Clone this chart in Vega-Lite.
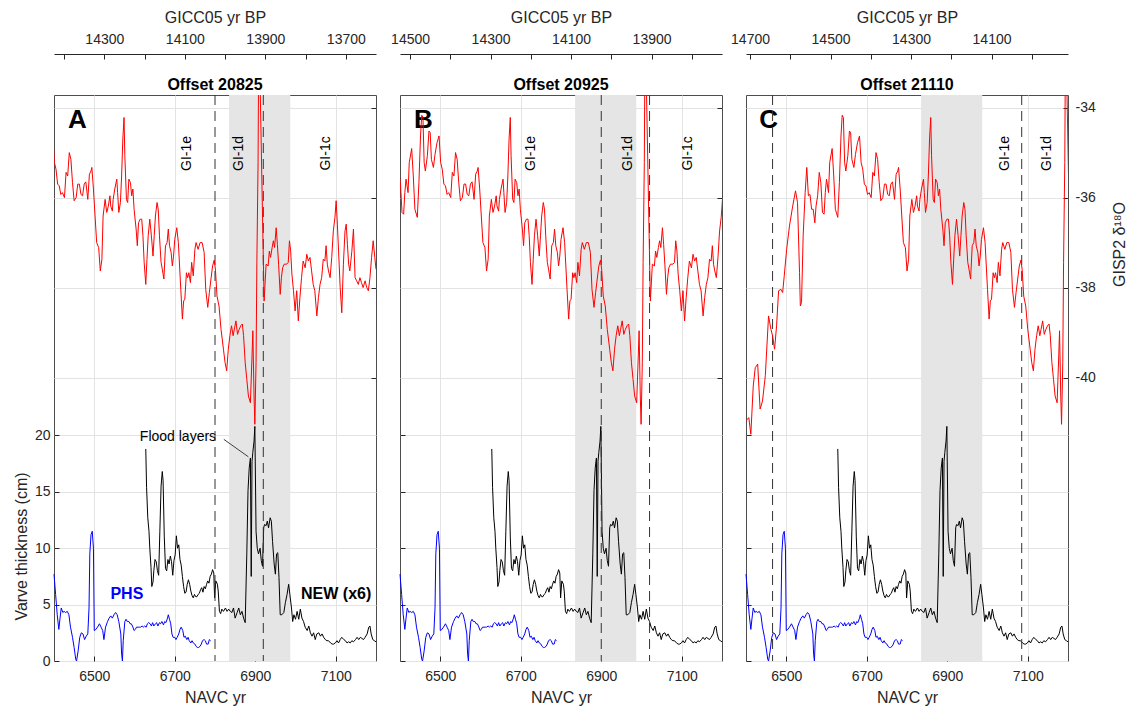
{
  "$schema": "https://vega.github.io/schema/vega-lite/v6.json",
  "background": "white",
  "padding": {"left": 12, "top": 8, "right": 2, "bottom": 5},
  "datasets": {
    "band": [{"start": 6835, "end": 6987}],
    "bounds": [{"gicc": 14644}, {"gicc": 14025}, {"gicc": 13905}],
    "gisp2": [
      {"gicc":14710,"d18o":-40.96},{"gicc":14703,"d18o":-40.89},{"gicc":14698,"d18o":-41.26},{"gicc":14692,"d18o":-40.19},{"gicc":14687,"d18o":-39.78},{"gicc":14681,"d18o":-39.70},{"gicc":14675,"d18o":-40.70},{"gicc":14669,"d18o":-40.52},{"gicc":14662,"d18o":-39.96},{"gicc":14654,"d18o":-38.63},{"gicc":14648,"d18o":-38.93},{"gicc":14644,"d18o":-39.07},{"gicc":14639,"d18o":-39.37},{"gicc":14634,"d18o":-38.85},{"gicc":14629,"d18o":-38.07},{"gicc":14623,"d18o":-38.04},{"gicc":14619,"d18o":-38.11},{"gicc":14615,"d18o":-37.74},{"gicc":14609,"d18o":-37.15},{"gicc":14602,"d18o":-36.63},{"gicc":14594,"d18o":-36.19},{"gicc":14587,"d18o":-35.85},{"gicc":14582,"d18o":-36.11},{"gicc":14577,"d18o":-37.67},{"gicc":14575,"d18o":-38.41},{"gicc":14572,"d18o":-38.33},{"gicc":14568,"d18o":-36.85},{"gicc":14563,"d18o":-35.89},{"gicc":14559,"d18o":-35.33},{"gicc":14555,"d18o":-35.96},{"gicc":14551,"d18o":-35.93},{"gicc":14547,"d18o":-36.26},{"gicc":14543,"d18o":-36.26},{"gicc":14539,"d18o":-36.56},{"gicc":14536,"d18o":-36.19},{"gicc":14532,"d18o":-35.96},{"gicc":14528,"d18o":-35.44},{"gicc":14524,"d18o":-35.67},{"gicc":14520,"d18o":-36.33},{"gicc":14516,"d18o":-36.37},{"gicc":14513,"d18o":-35.89},{"gicc":14510,"d18o":-35.59},{"gicc":14505,"d18o":-35.89},{"gicc":14502,"d18o":-35.22},{"gicc":14496,"d18o":-34.91},{"gicc":14492,"d18o":-35.52},{"gicc":14488,"d18o":-36.26},{"gicc":14482,"d18o":-36.44},{"gicc":14478,"d18o":-35.67},{"gicc":14474,"d18o":-34.63},{"gicc":14471,"d18o":-34.17},{"gicc":14468,"d18o":-34.22},{"gicc":14465,"d18o":-35.22},{"gicc":14462,"d18o":-35.41},{"gicc":14457,"d18o":-35.07},{"gicc":14453,"d18o":-34.52},{"gicc":14450,"d18o":-34.56},{"gicc":14447,"d18o":-35.15},{"gicc":14442,"d18o":-35.33},{"gicc":14438,"d18o":-35.04},{"gicc":14433,"d18o":-34.78},{"gicc":14428,"d18o":-34.63},{"gicc":14424,"d18o":-35.22},{"gicc":14420,"d18o":-35.37},{"gicc":14416,"d18o":-35.70},{"gicc":14412,"d18o":-35.74},{"gicc":14408,"d18o":-35.93},{"gicc":14404,"d18o":-35.89},{"gicc":14399,"d18o":-36.00},{"gicc":14395,"d18o":-35.44},{"gicc":14391,"d18o":-35.52},{"gicc":14387,"d18o":-35.00},{"gicc":14383,"d18o":-35.15},{"gicc":14379,"d18o":-35.67},{"gicc":14375,"d18o":-36.07},{"gicc":14370,"d18o":-36.00},{"gicc":14366,"d18o":-35.70},{"gicc":14362,"d18o":-35.70},{"gicc":14358,"d18o":-35.93},{"gicc":14354,"d18o":-35.96},{"gicc":14350,"d18o":-35.70},{"gicc":14346,"d18o":-35.65},{"gicc":14341,"d18o":-36.04},{"gicc":14337,"d18o":-35.48},{"gicc":14333,"d18o":-35.41},{"gicc":14331,"d18o":-35.33},{"gicc":14327,"d18o":-35.81},{"gicc":14323,"d18o":-36.41},{"gicc":14319,"d18o":-37.00},{"gicc":14314,"d18o":-37.11},{"gicc":14310,"d18o":-37.63},{"gicc":14306,"d18o":-37.37},{"gicc":14303,"d18o":-36.41},{"gicc":14298,"d18o":-36.04},{"gicc":14294,"d18o":-36.33},{"gicc":14290,"d18o":-36.19},{"gicc":14286,"d18o":-35.96},{"gicc":14284,"d18o":-36.19},{"gicc":14280,"d18o":-36.30},{"gicc":14278,"d18o":-36.04},{"gicc":14274,"d18o":-35.81},{"gicc":14269,"d18o":-35.59},{"gicc":14267,"d18o":-35.89},{"gicc":14264,"d18o":-36.33},{"gicc":14260,"d18o":-36.11},{"gicc":14257,"d18o":-35.52},{"gicc":14254,"d18o":-34.70},{"gicc":14251,"d18o":-34.22},{"gicc":14249,"d18o":-35.07},{"gicc":14245,"d18o":-36.04},{"gicc":14242,"d18o":-36.11},{"gicc":14239,"d18o":-35.59},{"gicc":14235,"d18o":-35.67},{"gicc":14232,"d18o":-35.96},{"gicc":14229,"d18o":-35.81},{"gicc":14226,"d18o":-36.26},{"gicc":14221,"d18o":-36.70},{"gicc":14218,"d18o":-37.07},{"gicc":14215,"d18o":-36.56},{"gicc":14211,"d18o":-36.48},{"gicc":14207,"d18o":-36.48},{"gicc":14204,"d18o":-36.85},{"gicc":14201,"d18o":-37.44},{"gicc":14197,"d18o":-37.93},{"gicc":14194,"d18o":-37.37},{"gicc":14191,"d18o":-36.85},{"gicc":14187,"d18o":-36.48},{"gicc":14183,"d18o":-36.85},{"gicc":14179,"d18o":-37.30},{"gicc":14176,"d18o":-36.85},{"gicc":14173,"d18o":-36.41},{"gicc":14169,"d18o":-36.11},{"gicc":14166,"d18o":-36.26},{"gicc":14163,"d18o":-36.85},{"gicc":14159,"d18o":-37.44},{"gicc":14156,"d18o":-37.59},{"gicc":14152,"d18o":-37.81},{"gicc":14148,"d18o":-37.07},{"gicc":14144,"d18o":-37.00},{"gicc":14141,"d18o":-36.70},{"gicc":14138,"d18o":-37.07},{"gicc":14134,"d18o":-37.22},{"gicc":14131,"d18o":-37.52},{"gicc":14128,"d18o":-37.30},{"gicc":14125,"d18o":-36.93},{"gicc":14120,"d18o":-36.67},{"gicc":14116,"d18o":-37.00},{"gicc":14113,"d18o":-37.52},{"gicc":14110,"d18o":-38.04},{"gicc":14106,"d18o":-38.70},{"gicc":14103,"d18o":-38.30},{"gicc":14100,"d18o":-38.26},{"gicc":14096,"d18o":-37.67},{"gicc":14093,"d18o":-37.78},{"gicc":14090,"d18o":-37.67},{"gicc":14086,"d18o":-37.89},{"gicc":14083,"d18o":-37.44},{"gicc":14079,"d18o":-37.74},{"gicc":14075,"d18o":-37.15},{"gicc":14072,"d18o":-37.00},{"gicc":14067,"d18o":-37.15},{"gicc":14062,"d18o":-37.00},{"gicc":14057,"d18o":-37.00},{"gicc":14052,"d18o":-37.22},{"gicc":14048,"d18o":-38.04},{"gicc":14043,"d18o":-38.44},{"gicc":14039,"d18o":-38.11},{"gicc":14035,"d18o":-37.81},{"gicc":14031,"d18o":-37.52},{"gicc":14027,"d18o":-37.39},{"gicc":14024,"d18o":-37.59},{"gicc":14020,"d18o":-38.19},{"gicc":14015,"d18o":-38.41},{"gicc":14010,"d18o":-38.93},{"gicc":14004,"d18o":-39.37},{"gicc":14000,"d18o":-39.67},{"gicc":13996,"d18o":-39.85},{"gicc":13992,"d18o":-39.37},{"gicc":13988,"d18o":-39.07},{"gicc":13984,"d18o":-38.85},{"gicc":13980,"d18o":-39.07},{"gicc":13977,"d18o":-38.93},{"gicc":13973,"d18o":-38.74},{"gicc":13969,"d18o":-39.04},{"gicc":13965,"d18o":-38.93},{"gicc":13961,"d18o":-38.85},{"gicc":13957,"d18o":-38.81},{"gicc":13954,"d18o":-39.07},{"gicc":13950,"d18o":-39.67},{"gicc":13946,"d18o":-40.04},{"gicc":13942,"d18o":-40.41},{"gicc":13937,"d18o":-40.56},{"gicc":13933,"d18o":-39.52},{"gicc":13931,"d18o":-38.96},{"gicc":13928,"d18o":-40.41},{"gicc":13926,"d18o":-41.04},{"gicc":13923,"d18o":-39.67},{"gicc":13921,"d18o":-37.44},{"gicc":13918,"d18o":-35.22},{"gicc":13916,"d18o":-32.0},{"gicc":13903,"d18o":-38.30},{"gicc":13898,"d18o":-37.48},{"gicc":13893,"d18o":-37.52},{"gicc":13890,"d18o":-37.19},{"gicc":13887,"d18o":-37.33},{"gicc":13883,"d18o":-37.11},{"gicc":13880,"d18o":-36.96},{"gicc":13877,"d18o":-37.11},{"gicc":13873,"d18o":-36.67},{"gicc":13870,"d18o":-37.04},{"gicc":13867,"d18o":-37.48},{"gicc":13863,"d18o":-38.15},{"gicc":13860,"d18o":-37.78},{"gicc":13857,"d18o":-37.56},{"gicc":13853,"d18o":-37.48},{"gicc":13847,"d18o":-37.48},{"gicc":13843,"d18o":-37.44},{"gicc":13840,"d18o":-36.96},{"gicc":13837,"d18o":-37.19},{"gicc":13834,"d18o":-37.70},{"gicc":13830,"d18o":-38.07},{"gicc":13826,"d18o":-38.52},{"gicc":13822,"d18o":-38.07},{"gicc":13818,"d18o":-38.74},{"gicc":13814,"d18o":-38.22},{"gicc":13810,"d18o":-37.78},{"gicc":13806,"d18o":-37.41},{"gicc":13801,"d18o":-37.56},{"gicc":13797,"d18o":-37.26},{"gicc":13793,"d18o":-37.41},{"gicc":13789,"d18o":-37.33},{"gicc":13785,"d18o":-37.63},{"gicc":13781,"d18o":-37.93},{"gicc":13777,"d18o":-38.07},{"gicc":13772,"d18o":-38.63},{"gicc":13768,"d18o":-38.22},{"gicc":13764,"d18o":-37.93},{"gicc":13760,"d18o":-37.78},{"gicc":13756,"d18o":-37.37},{"gicc":13752,"d18o":-37.41},{"gicc":13749,"d18o":-37.07},{"gicc":13746,"d18o":-37.48},{"gicc":13743,"d18o":-37.63},{"gicc":13739,"d18o":-37.78},{"gicc":13735,"d18o":-37.33},{"gicc":13731,"d18o":-36.74},{"gicc":13727,"d18o":-36.44},{"gicc":13724,"d18o":-36.07},{"gicc":13721,"d18o":-36.59},{"gicc":13718,"d18o":-37.19},{"gicc":13714,"d18o":-38.00},{"gicc":13710,"d18o":-38.56},{"gicc":13706,"d18o":-37.48},{"gicc":13702,"d18o":-36.74},{"gicc":13699,"d18o":-36.59},{"gicc":13696,"d18o":-37.04},{"gicc":13693,"d18o":-37.48},{"gicc":13690,"d18o":-37.63},{"gicc":13685,"d18o":-37.19},{"gicc":13681,"d18o":-36.70},{"gicc":13677,"d18o":-37.78},{"gicc":13673,"d18o":-37.85},{"gicc":13669,"d18o":-37.93},{"gicc":13665,"d18o":-37.78},{"gicc":13661,"d18o":-37.89},{"gicc":13657,"d18o":-38.00},{"gicc":13652,"d18o":-37.85},{"gicc":13648,"d18o":-38.00},{"gicc":13644,"d18o":-38.07},{"gicc":13640,"d18o":-37.78},{"gicc":13636,"d18o":-37.33},{"gicc":13632,"d18o":-36.96},{"gicc":13628,"d18o":-37.33},{"gicc":13625,"d18o":-37.59}
    ],
    "new": [
      {"navc":6628,"thk":18.8},{"navc":6630,"thk":15.4},{"navc":6633,"thk":12.7},{"navc":6636,"thk":11.5},{"navc":6638,"thk":10.0},{"navc":6641,"thk":8.3},{"navc":6643,"thk":6.6},{"navc":6646,"thk":7.0},{"navc":6648,"thk":8.0},{"navc":6651,"thk":9.0},{"navc":6654,"thk":8.8},{"navc":6657,"thk":8.0},{"navc":6660,"thk":7.6},{"navc":6663,"thk":11.5},{"navc":6666,"thk":15.5},{"navc":6669,"thk":16.8},{"navc":6671,"thk":16.0},{"navc":6674,"thk":11.0},{"navc":6677,"thk":8.2},{"navc":6680,"thk":8.0},{"navc":6683,"thk":9.0},{"navc":6686,"thk":8.6},{"navc":6689,"thk":9.3},{"navc":6692,"thk":8.8},{"navc":6695,"thk":7.6},{"navc":6698,"thk":8.9},{"navc":6701,"thk":9.4},{"navc":6704,"thk":11.1},{"navc":6707,"thk":10.0},{"navc":6710,"thk":10.3},{"navc":6713,"thk":9.0},{"navc":6716,"thk":8.5},{"navc":6719,"thk":7.5},{"navc":6722,"thk":6.6},{"navc":6725,"thk":6.0},{"navc":6728,"thk":6.1},{"navc":6731,"thk":6.8},{"navc":6734,"thk":7.2},{"navc":6737,"thk":6.8},{"navc":6740,"thk":6.2},{"navc":6743,"thk":5.8},{"navc":6746,"thk":5.6},{"navc":6749,"thk":5.9},{"navc":6752,"thk":5.7},{"navc":6755,"thk":5.7},{"navc":6758,"thk":5.9},{"navc":6761,"thk":6.0},{"navc":6764,"thk":6.3},{"navc":6767,"thk":6.5},{"navc":6770,"thk":6.1},{"navc":6773,"thk":6.6},{"navc":6776,"thk":6.4},{"navc":6779,"thk":6.8},{"navc":6782,"thk":7.1},{"navc":6785,"thk":6.9},{"navc":6788,"thk":7.5},{"navc":6791,"thk":7.7},{"navc":6794,"thk":8.1},{"navc":6797,"thk":7.8},{"navc":6799,"thk":5.6},{"navc":6802,"thk":7.1},{"navc":6806,"thk":6.8},{"navc":6808,"thk":6.2},{"navc":6811,"thk":4.4},{"navc":6814,"thk":4.2},{"navc":6817,"thk":4.6},{"navc":6821,"thk":4.4},{"navc":6826,"thk":4.7},{"navc":6830,"thk":4.4},{"navc":6834,"thk":4.6},{"navc":6838,"thk":4.4},{"navc":6842,"thk":4.3},{"navc":6846,"thk":4.7},{"navc":6850,"thk":3.8},{"navc":6855,"thk":4.3},{"navc":6859,"thk":4.7},{"navc":6863,"thk":4.1},{"navc":6867,"thk":4.4},{"navc":6871,"thk":3.8},{"navc":6875,"thk":3.4},{"navc":6879,"thk":9.5},{"navc":6882,"thk":15.1},{"navc":6885,"thk":17.1},{"navc":6888,"thk":18.0},{"navc":6890,"thk":7.5},{"navc":6892,"thk":17.7},{"navc":6894,"thk":18.5},{"navc":6897,"thk":19.5},{"navc":6899,"thk":20.8},{"navc":6902,"thk":11.5},{"navc":6905,"thk":10.0},{"navc":6908,"thk":9.5},{"navc":6912,"thk":10.0},{"navc":6915,"thk":8.9},{"navc":6918,"thk":8.4},{"navc":6921,"thk":11.8},{"navc":6923,"thk":12.1},{"navc":6927,"thk":12.0},{"navc":6930,"thk":12.4},{"navc":6933,"thk":11.8},{"navc":6937,"thk":12.7},{"navc":6940,"thk":12.4},{"navc":6943,"thk":10.6},{"navc":6947,"thk":8.6},{"navc":6950,"thk":7.7},{"navc":6953,"thk":9.5},{"navc":6956,"thk":9.6},{"navc":6959,"thk":7.4},{"navc":6962,"thk":4.1},{"navc":6966,"thk":4.1},{"navc":6971,"thk":4.3},{"navc":6975,"thk":5.2},{"navc":6979,"thk":5.9},{"navc":6983,"thk":6.8},{"navc":6986,"thk":5.9},{"navc":6990,"thk":4.7},{"navc":6993,"thk":3.5},{"navc":6996,"thk":4.1},{"navc":7000,"thk":3.7},{"navc":7004,"thk":4.4},{"navc":7008,"thk":3.7},{"navc":7012,"thk":4.6},{"navc":7016,"thk":3.8},{"navc":7020,"thk":3.5},{"navc":7024,"thk":3.0},{"navc":7029,"thk":2.7},{"navc":7033,"thk":3.1},{"navc":7037,"thk":2.5},{"navc":7041,"thk":2.2},{"navc":7045,"thk":2.5},{"navc":7049,"thk":1.9},{"navc":7053,"thk":2.4},{"navc":7058,"thk":2.5},{"navc":7062,"thk":2.2},{"navc":7066,"thk":2.4},{"navc":7070,"thk":2.1},{"navc":7074,"thk":1.9},{"navc":7078,"thk":1.8},{"navc":7082,"thk":1.8},{"navc":7087,"thk":1.6},{"navc":7091,"thk":1.5},{"navc":7095,"thk":1.5},{"navc":7099,"thk":1.6},{"navc":7103,"thk":1.8},{"navc":7107,"thk":1.6},{"navc":7111,"thk":1.9},{"navc":7115,"thk":2.1},{"navc":7120,"thk":1.9},{"navc":7124,"thk":1.8},{"navc":7128,"thk":1.6},{"navc":7132,"thk":1.7},{"navc":7136,"thk":1.6},{"navc":7140,"thk":1.8},{"navc":7144,"thk":1.7},{"navc":7149,"thk":1.9},{"navc":7153,"thk":2.1},{"navc":7157,"thk":1.9},{"navc":7161,"thk":2.1},{"navc":7165,"thk":2.0},{"navc":7169,"thk":1.9},{"navc":7173,"thk":2.1},{"navc":7178,"thk":2.4},{"navc":7182,"thk":3.0},{"navc":7185,"thk":3.1},{"navc":7188,"thk":2.4},{"navc":7192,"thk":1.9},{"navc":7196,"thk":1.8},{"navc":7200,"thk":1.7}
    ],
    "phs": [
      {"navc":6400,"thk":7.7},{"navc":6404,"thk":5.9},{"navc":6408,"thk":4.1},{"navc":6412,"thk":2.8},{"navc":6415,"thk":3.8},{"navc":6418,"thk":4.7},{"navc":6422,"thk":4.3},{"navc":6425,"thk":4.4},{"navc":6429,"thk":4.3},{"navc":6433,"thk":4.4},{"navc":6437,"thk":4.1},{"navc":6441,"thk":3.0},{"navc":6446,"thk":2.1},{"navc":6450,"thk":1.2},{"navc":6454,"thk":0.15},{"navc":6456,"thk":0},{"navc":6460,"thk":0.9},{"navc":6464,"thk":2.1},{"navc":6468,"thk":2.5},{"navc":6472,"thk":2.4},{"navc":6476,"thk":1.9},{"navc":6480,"thk":2.2},{"navc":6484,"thk":2.4},{"navc":6487,"thk":4.7},{"navc":6489,"thk":9.5},{"navc":6492,"thk":11.2},{"navc":6495,"thk":11.5},{"navc":6498,"thk":10.0},{"navc":6500,"thk":2.7},{"navc":6504,"thk":2.8},{"navc":6508,"thk":3.0},{"navc":6513,"thk":3.3},{"navc":6517,"thk":3.0},{"navc":6521,"thk":2.7},{"navc":6524,"thk":1.9},{"navc":6528,"thk":3.0},{"navc":6533,"thk":3.5},{"navc":6537,"thk":3.8},{"navc":6541,"thk":4.0},{"navc":6545,"thk":3.8},{"navc":6549,"thk":4.1},{"navc":6553,"thk":4.3},{"navc":6557,"thk":4.1},{"navc":6561,"thk":3.5},{"navc":6566,"thk":2.4},{"navc":6568,"thk":0.6},{"navc":6570,"thk":0},{"navc":6572,"thk":1.8},{"navc":6576,"thk":3.5},{"navc":6579,"thk":3.7},{"navc":6582,"thk":3.5},{"navc":6586,"thk":3.5},{"navc":6589,"thk":3.3},{"navc":6592,"thk":3.3},{"navc":6595,"thk":3.1},{"navc":6599,"thk":2.7},{"navc":6602,"thk":2.8},{"navc":6605,"thk":3.0},{"navc":6609,"thk":3.0},{"navc":6612,"thk":3.0},{"navc":6615,"thk":3.0},{"navc":6619,"thk":3.1},{"navc":6622,"thk":3.0},{"navc":6625,"thk":3.1},{"navc":6629,"thk":3.0},{"navc":6632,"thk":3.3},{"navc":6635,"thk":3.4},{"navc":6639,"thk":3.3},{"navc":6642,"thk":3.1},{"navc":6645,"thk":3.4},{"navc":6648,"thk":3.1},{"navc":6652,"thk":3.3},{"navc":6655,"thk":3.4},{"navc":6658,"thk":3.1},{"navc":6662,"thk":3.4},{"navc":6665,"thk":3.3},{"navc":6668,"thk":3.5},{"navc":6672,"thk":3.2},{"navc":6675,"thk":3.5},{"navc":6678,"thk":3.4},{"navc":6682,"thk":3.8},{"navc":6684,"thk":4.1},{"navc":6687,"thk":3.7},{"navc":6690,"thk":3.3},{"navc":6693,"thk":2.4},{"navc":6696,"thk":2.1},{"navc":6700,"thk":2.1},{"navc":6703,"thk":1.9},{"navc":6706,"thk":2.1},{"navc":6710,"thk":2.4},{"navc":6713,"thk":2.8},{"navc":6716,"thk":3.0},{"navc":6720,"thk":2.7},{"navc":6723,"thk":2.1},{"navc":6726,"thk":2.2},{"navc":6730,"thk":1.9},{"navc":6733,"thk":2.1},{"navc":6736,"thk":1.8},{"navc":6740,"thk":1.6},{"navc":6743,"thk":1.8},{"navc":6746,"thk":1.6},{"navc":6750,"thk":1.5},{"navc":6753,"thk":1.3},{"navc":6756,"thk":1.2},{"navc":6759,"thk":1.2},{"navc":6763,"thk":1.3},{"navc":6766,"thk":1.5},{"navc":6769,"thk":1.8},{"navc":6773,"thk":1.9},{"navc":6776,"thk":1.8},{"navc":6779,"thk":1.5},{"navc":6783,"thk":1.5},{"navc":6786,"thk":1.9},{"navc":6789,"thk":1.8}
    ]
  },
  "spacing": 24,
  "bounds": "flush",
  "hconcat": [
    {
      "title": {"text": "Offset 20825"},
      "width": 322, "height": 566,
      "layer": [
        {"layer": [
          {"data": {"name": "band"}, "mark": {"type": "rect", "color": "#e5e5e5"},
           "encoding": {"x": {"field": "start", "type": "quantitative", "scale": {"domain": [6400, 7200], "nice": false, "zero": false}, "axis": {"title": "NAVC yr", "values": [6500, 6700, 6900, 7100], "format": "d", "grid": true, "labelPadding": 13, "titlePadding": 6}}, "x2": {"field": "end"}}},
          {"data": {"name": "phs"}, "mark": {"type": "line", "color": "#0000ff", "strokeWidth": 1},
           "encoding": {"x": {"field": "navc", "type": "quantitative"}, "y": {"field": "thk", "type": "quantitative", "scale": {"domain": [0, 50.18], "nice": false, "zero": false}, "axis": {"orient": "left", "title": "Varve thickness (cm)", "values": [0, 5, 10, 15, 20], "grid": true, "labelPadding": 9, "titlePadding": 5, "titleY": 451}}}},
          {"data": {"name": "new"}, "mark": {"type": "line", "color": "#000000", "strokeWidth": 1},
           "encoding": {"x": {"field": "navc", "type": "quantitative"}, "y": {"field": "thk", "type": "quantitative"}}},
          {"data": {"values": [{}]}, "mark": {"type": "text", "text": "A", "fontSize": 26, "fontWeight": "bold", "color": "#000000", "align": "center", "baseline": "middle"},
           "encoding": {"x": {"datum": 6458, "type": "quantitative"}, "y": {"datum": 48, "type": "quantitative"}}},
          {"data": {"values": [{}]}, "mark": {"type": "text", "text": "GI-1e", "fontSize": 14, "angle": 270, "color": "#000000", "align": "center", "baseline": "middle"},
           "encoding": {"x": {"datum": 6730, "type": "quantitative"}, "y": {"datum": 45, "type": "quantitative"}}},
          {"data": {"values": [{}]}, "mark": {"type": "text", "text": "GI-1d", "fontSize": 14, "angle": 270, "color": "#000000", "align": "center", "baseline": "middle"},
           "encoding": {"x": {"datum": 6860, "type": "quantitative"}, "y": {"datum": 45, "type": "quantitative"}}},
          {"data": {"values": [{}]}, "mark": {"type": "text", "text": "GI-1c", "fontSize": 14, "angle": 270, "color": "#000000", "align": "center", "baseline": "middle"},
           "encoding": {"x": {"datum": 7077, "type": "quantitative"}, "y": {"datum": 45, "type": "quantitative"}}},
          {"data": {"values": [{}]}, "mark": {"type": "text", "text": "Flood layers", "fontSize": 14, "color": "#000000", "align": "center", "baseline": "middle"},
           "encoding": {"x": {"datum": 6708, "type": "quantitative"}, "y": {"datum": 19.9, "type": "quantitative"}}},
          {"data": {"values": [{}]}, "mark": {"type": "rule", "color": "#404040", "strokeWidth": 1},
           "encoding": {"x": {"datum": 6822, "type": "quantitative"}, "x2": {"datum": 6883}, "y": {"datum": 19.65, "type": "quantitative"}, "y2": {"datum": 18.1}}},
          {"data": {"values": [{}]}, "mark": {"type": "text", "text": "PHS", "fontSize": 16, "fontWeight": "bold", "color": "#0000ff", "align": "center", "baseline": "middle"},
           "encoding": {"x": {"datum": 6581, "type": "quantitative"}, "y": {"datum": 5.94, "type": "quantitative"}}},
          {"data": {"values": [{}]}, "mark": {"type": "text", "text": "NEW (x6)", "fontSize": 16, "fontWeight": "bold", "color": "#000000", "align": "center", "baseline": "middle"},
           "encoding": {"x": {"datum": 7101, "type": "quantitative"}, "y": {"datum": 5.94, "type": "quantitative"}}}
        ]},
        {"layer": [
          {"data": {"name": "bounds"}, "mark": {"type": "rule", "color": "#333333", "strokeDash": [10, 6], "strokeWidth": 1, "clip": true},
           "encoding": {"x": {"field": "gicc", "type": "quantitative", "scale": {"domain": [13625, 14425], "reverse": true, "nice": false, "zero": false}, "axis": {"orient": "top", "title": "GICC05 yr BP", "values": [13700, 13800, 13900, 14000, 14100, 14200, 14300, 14400], "labelExpr": "datum.value % 200 == 100 ? '' + datum.value : ''", "grid": false, "domain": true, "domainColor": "#262626", "offset": 41, "labelPadding": 13, "titlePadding": 7}}}},
          {"data": {"name": "gisp2"}, "mark": {"type": "line", "color": "#ff0000", "strokeWidth": 1, "clip": true},
           "encoding": {"x": {"field": "gicc", "type": "quantitative"}, "y": {"field": "d18o", "type": "quantitative", "scale": {"domain": [-46.3, -33.72], "nice": false, "zero": false}, "axis": {"orient": "right", "title": null, "values": [-40, -38, -36, -34], "grid": true, "labels": false}}}}
        ]}
      ],
      "resolve": {"scale": {"x": "independent", "y": "independent"}}
    },
    {
      "title": {"text": "Offset 20925"},
      "width": 322, "height": 566,
      "layer": [
        {"layer": [
          {"data": {"name": "band"}, "mark": {"type": "rect", "color": "#e5e5e5"},
           "encoding": {"x": {"field": "start", "type": "quantitative", "scale": {"domain": [6400, 7200], "nice": false, "zero": false}, "axis": {"title": "NAVC yr", "values": [6500, 6700, 6900, 7100], "format": "d", "grid": true, "labelPadding": 13, "titlePadding": 6}}, "x2": {"field": "end"}}},
          {"data": {"name": "phs"}, "mark": {"type": "line", "color": "#0000ff", "strokeWidth": 1},
           "encoding": {"x": {"field": "navc", "type": "quantitative"}, "y": {"field": "thk", "type": "quantitative", "scale": {"domain": [0, 50.18], "nice": false, "zero": false}, "axis": {"orient": "left", "title": null, "values": [0, 5, 10, 15, 20], "grid": true, "labels": false}}}},
          {"data": {"name": "new"}, "mark": {"type": "line", "color": "#000000", "strokeWidth": 1},
           "encoding": {"x": {"field": "navc", "type": "quantitative"}, "y": {"field": "thk", "type": "quantitative"}}},
          {"data": {"values": [{}]}, "mark": {"type": "text", "text": "B", "fontSize": 26, "fontWeight": "bold", "color": "#000000", "align": "center", "baseline": "middle"},
           "encoding": {"x": {"datum": 6458, "type": "quantitative"}, "y": {"datum": 48, "type": "quantitative"}}},
          {"data": {"values": [{}]}, "mark": {"type": "text", "text": "GI-1e", "fontSize": 14, "angle": 270, "color": "#000000", "align": "center", "baseline": "middle"},
           "encoding": {"x": {"datum": 6726, "type": "quantitative"}, "y": {"datum": 45, "type": "quantitative"}}},
          {"data": {"values": [{}]}, "mark": {"type": "text", "text": "GI-1d", "fontSize": 14, "angle": 270, "color": "#000000", "align": "center", "baseline": "middle"},
           "encoding": {"x": {"datum": 6967, "type": "quantitative"}, "y": {"datum": 45, "type": "quantitative"}}},
          {"data": {"values": [{}]}, "mark": {"type": "text", "text": "GI-1c", "fontSize": 14, "angle": 270, "color": "#000000", "align": "center", "baseline": "middle"},
           "encoding": {"x": {"datum": 7116, "type": "quantitative"}, "y": {"datum": 45, "type": "quantitative"}}}
        ]},
        {"layer": [
          {"data": {"name": "bounds"}, "mark": {"type": "rule", "color": "#333333", "strokeDash": [10, 6], "strokeWidth": 1, "clip": true},
           "encoding": {"x": {"field": "gicc", "type": "quantitative", "scale": {"domain": [13725, 14525], "reverse": true, "nice": false, "zero": false}, "axis": {"orient": "top", "title": "GICC05 yr BP", "values": [13800, 13900, 14000, 14100, 14200, 14300, 14400, 14500], "labelExpr": "datum.value % 200 == 100 ? '' + datum.value : ''", "grid": false, "domain": true, "domainColor": "#262626", "offset": 41, "labelPadding": 13, "titlePadding": 7}}}},
          {"data": {"name": "gisp2"}, "mark": {"type": "line", "color": "#ff0000", "strokeWidth": 1, "clip": true},
           "encoding": {"x": {"field": "gicc", "type": "quantitative"}, "y": {"field": "d18o", "type": "quantitative", "scale": {"domain": [-46.3, -33.72], "nice": false, "zero": false}, "axis": {"orient": "right", "title": null, "values": [-40, -38, -36, -34], "grid": true, "labels": false}}}}
        ]}
      ],
      "resolve": {"scale": {"x": "independent", "y": "independent"}}
    },
    {
      "title": {"text": "Offset 21110"},
      "width": 322, "height": 566,
      "layer": [
        {"layer": [
          {"data": {"name": "band"}, "mark": {"type": "rect", "color": "#e5e5e5"},
           "encoding": {"x": {"field": "start", "type": "quantitative", "scale": {"domain": [6400, 7200], "nice": false, "zero": false}, "axis": {"title": "NAVC yr", "values": [6500, 6700, 6900, 7100], "format": "d", "grid": true, "labelPadding": 13, "titlePadding": 6}}, "x2": {"field": "end"}}},
          {"data": {"name": "phs"}, "mark": {"type": "line", "color": "#0000ff", "strokeWidth": 1},
           "encoding": {"x": {"field": "navc", "type": "quantitative"}, "y": {"field": "thk", "type": "quantitative", "scale": {"domain": [0, 50.18], "nice": false, "zero": false}, "axis": {"orient": "left", "title": null, "values": [0, 5, 10, 15, 20], "grid": true, "labels": false}}}},
          {"data": {"name": "new"}, "mark": {"type": "line", "color": "#000000", "strokeWidth": 1},
           "encoding": {"x": {"field": "navc", "type": "quantitative"}, "y": {"field": "thk", "type": "quantitative"}}},
          {"data": {"values": [{}]}, "mark": {"type": "text", "text": "C", "fontSize": 26, "fontWeight": "bold", "color": "#000000", "align": "center", "baseline": "middle"},
           "encoding": {"x": {"datum": 6456, "type": "quantitative"}, "y": {"datum": 48, "type": "quantitative"}}},
          {"data": {"values": [{}]}, "mark": {"type": "text", "text": "GI-1e", "fontSize": 14, "angle": 270, "color": "#000000", "align": "center", "baseline": "middle"},
           "encoding": {"x": {"datum": 7043, "type": "quantitative"}, "y": {"datum": 45, "type": "quantitative"}}},
          {"data": {"values": [{}]}, "mark": {"type": "text", "text": "GI-1d", "fontSize": 14, "angle": 270, "color": "#000000", "align": "center", "baseline": "middle"},
           "encoding": {"x": {"datum": 7148, "type": "quantitative"}, "y": {"datum": 45, "type": "quantitative"}}}
        ]},
        {"layer": [
          {"data": {"name": "bounds"}, "mark": {"type": "rule", "color": "#333333", "strokeDash": [10, 6], "strokeWidth": 1, "clip": true},
           "encoding": {"x": {"field": "gicc", "type": "quantitative", "scale": {"domain": [13910, 14710], "reverse": true, "nice": false, "zero": false}, "axis": {"orient": "top", "title": "GICC05 yr BP", "values": [14000, 14100, 14200, 14300, 14400, 14500, 14600, 14700], "labelExpr": "datum.value % 200 == 100 ? '' + datum.value : ''", "grid": false, "domain": true, "domainColor": "#262626", "offset": 41, "labelPadding": 13, "titlePadding": 7}}}},
          {"data": {"name": "gisp2"}, "mark": {"type": "line", "color": "#ff0000", "strokeWidth": 1, "clip": true},
           "encoding": {"x": {"field": "gicc", "type": "quantitative"}, "y": {"field": "d18o", "type": "quantitative", "scale": {"domain": [-46.3, -33.72], "nice": false, "zero": false}, "axis": {"orient": "right", "title": "GISP2 δ¹⁸O", "values": [-40, -38, -36, -34], "grid": true, "labelPadding": 12, "labelExpr": "'' + datum.value", "titleAngle": 270, "titleY": 149, "titlePadding": 32}}}}
        ]}
      ],
      "resolve": {"scale": {"x": "independent", "y": "independent"}}
    }
  ],
  "config": {
    "view": {"stroke": "#4d4d4d", "strokeWidth": 1},
    "axis": {"labelFont": "Liberation Sans", "titleFont": "Liberation Sans", "labelFontSize": 14, "titleFontSize": 16, "titleFontWeight": "normal", "labelColor": "#262626", "titleColor": "#262626", "tickColor": "#262626", "gridColor": "#e3e3e3", "domain": false, "tickSize": -5, "labelFlush": false},
    "title": {"font": "Liberation Sans", "fontSize": 16, "fontWeight": "bold", "color": "#000000", "offset": -84},
    "text": {"font": "Liberation Sans"}
  }
}
